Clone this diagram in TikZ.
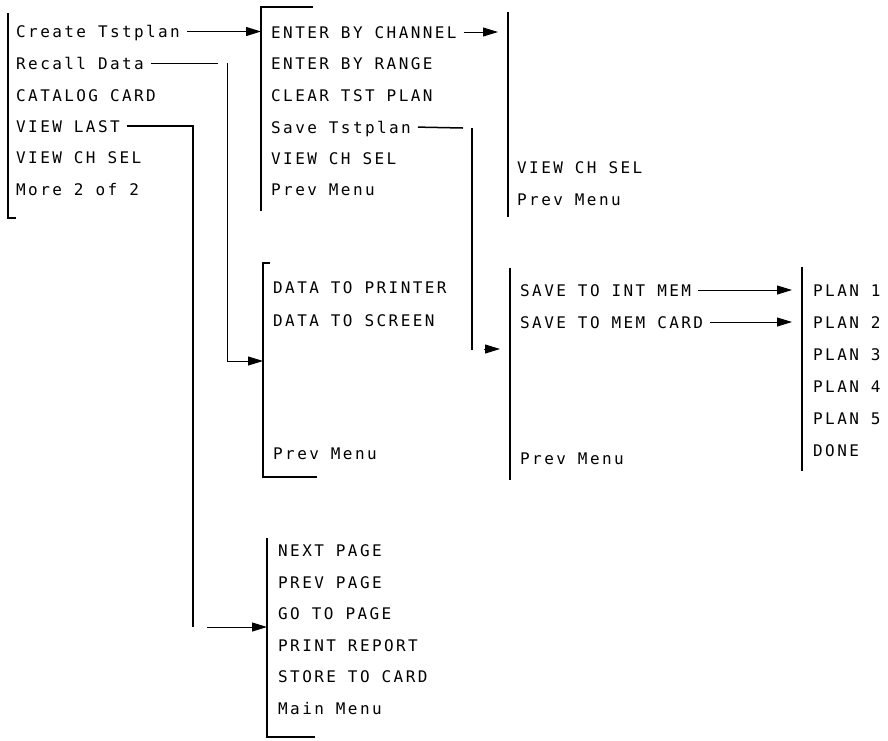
\documentclass[tikz,border=0pt]{standalone}
\usepackage{fontspec}
\usepackage{tikz}
\usetikzlibrary{arrows.meta}
\newfontfamily\hpfont[LetterSpace=15]{DejaVu Sans Mono}

\begin{document}
\begin{tikzpicture}[x=1pt,y=-1pt,
  key/.style={anchor=west,inner xsep=2pt,inner ysep=0pt,
              text height=12pt,text depth=0pt,
              font=\hpfont\fontsize{16}{18}\selectfont},
  bracket/.style={line width=2.4pt,line join=miter},
  wire/.style={line width=1pt},
  bus/.style={line width=2pt},
  link/.style={wire,-{Triangle[length=15pt,width=9pt]}},
  off/.style={shorten <=5pt}]
  \useasboundingbox (0,0) rectangle (888,740);

  % Main menu (page 2 of 2).
  \coordinate (b1t) at (8,13);
  \coordinate (b1b) at (8,218);
  \draw[bracket] (b1t) -- (b1b) -- ++(8,0);
  \node[key] (create)   at (14,31.5) {Create Tstplan};
  \node[key] (recall)   at (14,63)   {Recall Data};
  \node[key] (catalog)  at (14,95)   {CATALOG CARD};
  \node[key] (viewlast) at (14,126)  {VIEW LAST};
  \node[key] (chsel)    at (14,157.5){VIEW CH SEL};
  \node[key] (more)     at (14,189)  {More 2 of 2};

  % Test plan menu.
  \coordinate (b2t) at (261,7);
  \coordinate (b2b) at (261,211);
  \draw[bracket] (313,7) -- (b2t) -- (b2b);
  \node[key] (bychan)  at (269,32)   {ENTER BY CHANNEL};
  \node[key] (byrange) at (269,63.5) {ENTER BY RANGE};
  \node[key] (clear)   at (269,95)   {CLEAR TST PLAN};
  \node[key] (savetst) at (269,127)  {Save Tstplan};
  \node[key] (chsel2)  at (269,158)  {VIEW CH SEL};
  \node[key] (prev2)   at (269,189.5){Prev Menu};

  % Channel entry menu.
  \coordinate (b3t) at (508,12);
  \coordinate (b3b) at (508,217);
  \draw[bracket] (b3t) -- (b3b);
  \node[key] (chsel3) at (515,167) {VIEW CH SEL};
  \node[key] (prev3)  at (515,199) {Prev Menu};

  % Recall data menu.
  \coordinate (b4t) at (263,263);
  \coordinate (b4b) at (263,477);
  \draw[bracket] (270,263) -- (b4t) -- (b4b) -- (317,477);
  \node[key] (toprint)  at (271,287) {DATA TO PRINTER};
  \node[key] (toscreen) at (271,320) {DATA TO SCREEN};
  \node[key] (prev4)    at (271,453) {Prev Menu};

  % Save test plan menu.
  \coordinate (b5t) at (510,268);
  \coordinate (b5b) at (510,480);
  \draw[bracket] (b5t) -- (b5b);
  \node[key] (intmem)  at (518,290) {SAVE TO INT MEM};
  \node[key] (memcard) at (518,322) {SAVE TO MEM CARD};
  \node[key] (prev5)   at (518,458) {Prev Menu};

  % Plan slots.
  \coordinate (b6t) at (802,267);
  \coordinate (b6b) at (802,471);
  \draw[bracket] (b6t) -- (b6b);
  \node[key] (plan1) at (811,290) {PLAN 1};
  \node[key] (plan2) at (811,322) {PLAN 2};
  \node[key] (plan3) at (811,354) {PLAN 3};
  \node[key] (plan4) at (811,386) {PLAN 4};
  \node[key] (plan5) at (811,418) {PLAN 5};
  \node[key] (done)  at (811,450) {DONE};

  % Report view menu.
  \coordinate (b7t) at (267,538);
  \coordinate (b7b) at (267,737);
  \draw[bracket] (b7t) -- (b7b) -- (315,737);
  \node[key] (nextpg)    at (276,550) {NEXT PAGE};
  \node[key] (prevpg)    at (276,582) {PREV PAGE};
  \node[key] (gopg)      at (276,613) {GO TO PAGE};
  \node[key] (printrep)  at (276,645) {PRINT REPORT};
  \node[key] (storecard) at (276,676) {STORE TO CARD};
  \node[key] (mainmenu)  at (276,708) {Main Menu};

  % Connectors; the original leaves small gaps at some bends.
  \draw[link,off] (create.east) -- (create.east -| b2t);
  \draw[link,off] (bychan.east) -- (bychan.east -| 498,0);

  \coordinate (recallend) at (218,63);
  \coordinate (recalldrop) at (227,63);
  \coordinate (b4in) at (263,361);
  \draw[wire,off] (recall.east) -- (recallend);
  \draw[link] (recalldrop) |- (b4in);

  \coordinate (vlbottom) at (193,627);
  \coordinate (vlstart) at (207,627);
  \coordinate (b7in) at (267,627);
  \draw[bus,off] (viewlast.east) -| (vlbottom);
  \draw[link] (vlstart) -- (b7in);

  \coordinate (stend) at (463,128);
  \coordinate (sttop) at (472,128);
  \coordinate (stbottom) at (472,350);
  \coordinate (ststart) at (484,349);
  \coordinate (stin) at (500,349);
  \draw[wire,off,line width=1.5pt] (savetst.east) -- (stend);
  \draw[bus] (sttop) -- (stbottom);
  \draw[link] (ststart) -- (stin);

  \coordinate (intend) at (792,290);
  \coordinate (cardend) at (792,322);
  \draw[link,off] (intmem.east) -- (intend);
  \draw[link,off] (memcard.east) -- (cardend);
\end{tikzpicture}
\end{document}
